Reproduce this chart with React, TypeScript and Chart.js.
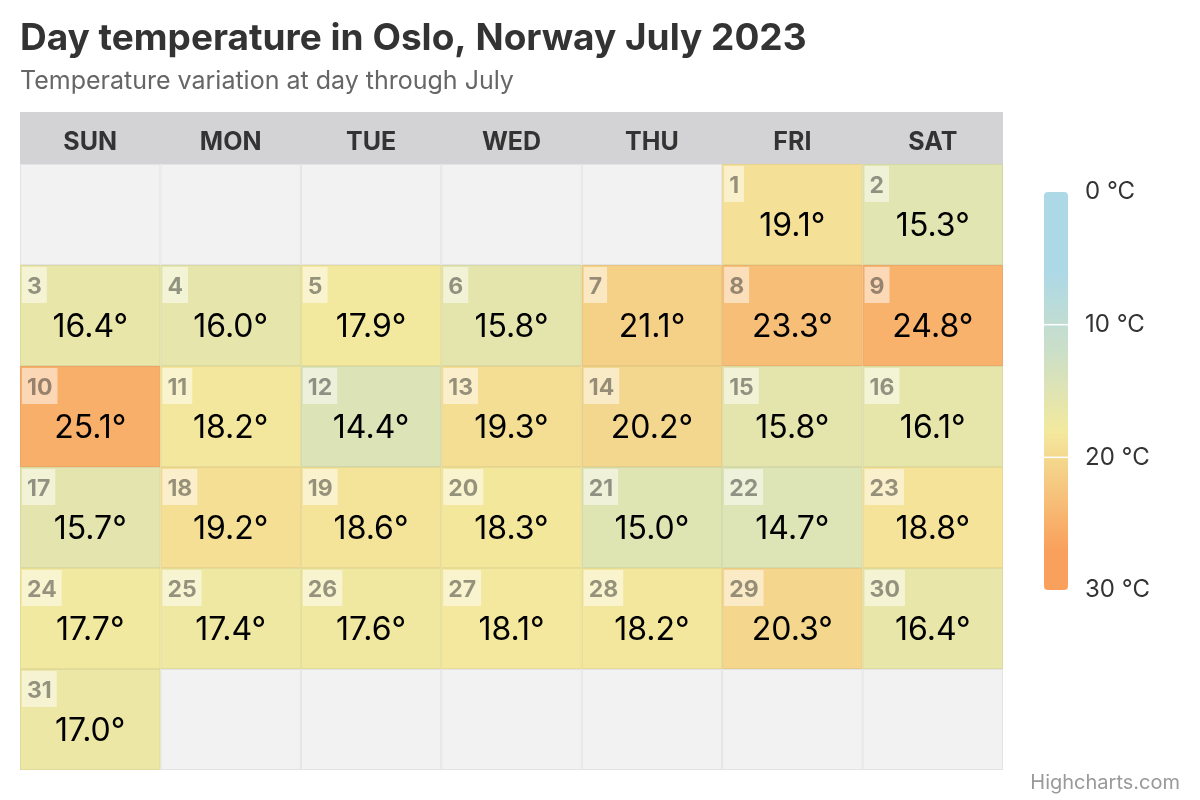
import React, { useEffect, useRef } from "react";
import { Chart, registerables } from "chart.js";

Chart.register(...registerables);

const TITLE = "Day temperature in Oslo, Norway July 2023";
const SUBTITLE = "Temperature variation at day through July";
const CREDITS = "Highcharts.com";
const WEEKDAYS = ["SUN", "MON", "TUE", "WED", "THU", "FRI", "SAT"];
const FIRST_WEEKDAY = 5;
const DAYS = [
  1, 2, 3, 4, 5, 6, 7, 8, 9, 10, 11, 12, 13, 14, 15, 16, 17, 18, 19, 20, 21,
  22, 23, 24, 25, 26, 27, 28, 29, 30, 31,
];
const TEMPS = [
  19.1, 15.3, 16.4, 16.0, 17.9, 15.8, 21.1, 23.3, 24.8, 25.1, 18.2, 14.4, 19.3,
  20.2, 15.8, 16.1, 15.7, 19.2, 18.6, 18.3, 15.0, 14.7, 18.8, 17.7, 17.4, 17.6,
  18.1, 18.2, 20.3, 16.4, 17.0,
];
const LEGEND_TICKS = [0, 10, 20, 30];
const COLOR_MIN = 0;
const COLOR_MAX = 30;
const COLOR_STOPS: [number, string][] = [
  [0.2, "#add8e6"],
  [0.4, "#cbdfc8"],
  [0.6, "#f3e99e"],
  [0.9, "#f9a05c"],
];

const FONT = '"Inter", "Noto Sans", sans-serif';

function hexToRgb(h: string) {
  const n = parseInt(h.slice(1), 16);
  return [(n >> 16) & 255, (n >> 8) & 255, n & 255];
}

function colorFor(v: number) {
  const p = (v - COLOR_MIN) / (COLOR_MAX - COLOR_MIN);
  if (p <= COLOR_STOPS[0][0]) return COLOR_STOPS[0][1];
  for (let i = 1; i < COLOR_STOPS.length; i++) {
    const [p1, c1] = COLOR_STOPS[i];
    if (p <= p1) {
      const [p0, c0] = COLOR_STOPS[i - 1];
      const t = (p - p0) / (p1 - p0);
      const a = hexToRgb(c0);
      const b = hexToRgb(c1);
      const m = a.map((x, k) => Math.round(x + (b[k] - x) * t));
      return `rgb(${m[0]},${m[1]},${m[2]})`;
    }
  }
  return COLOR_STOPS[COLOR_STOPS.length - 1][1];
}

const calendarPlugin = {
  id: "calendar",
  afterDatasetsDraw(chart: any) {
    const ctx: CanvasRenderingContext2D = chart.ctx;
    const xs = chart.scales.x;
    const ys = chart.scales.y;
    const pts = chart.data.datasets[0].data as any[];
    ctx.save();

    // Title & subtitle
    ctx.textBaseline = "alphabetic";
    ctx.textAlign = "left";
    ctx.fillStyle = "#333333";
    ctx.font = `bold 37px ${FONT}`;
    ctx.fillText(TITLE, 20, 50);
    ctx.fillStyle = "#666666";
    ctx.font = `25px ${FONT}`;
    ctx.fillText(SUBTITLE, 20, 89);

    // Header band
    const left = xs.getPixelForValue(-0.5);
    const right = xs.getPixelForValue(6.5);
    const top = ys.getPixelForValue(-0.5);
    ctx.fillStyle = "#d3d3d6";
    ctx.fillRect(left, top - 52, right - left, 52);
    ctx.fillStyle = "#333333";
    ctx.font = `bold 25px ${FONT}`;
    ctx.textAlign = "center";
    WEEKDAYS.forEach((w, i) => {
      ctx.fillText(w, xs.getPixelForValue(i), top - 14);
    });

    // Cells
    const rows = Math.ceil((FIRST_WEEKDAY + DAYS.length) / 7);
    const filled = new Set(pts.map((p) => p.y * 7 + p.x));
    const cellRect = (c: number, r: number) => {
      const x0 = xs.getPixelForValue(c - 0.5);
      const x1 = xs.getPixelForValue(c + 0.5);
      const y0 = ys.getPixelForValue(r - 0.5);
      const y1 = ys.getPixelForValue(r + 0.5);
      return { x0, y0, w: x1 - x0, h: y1 - y0 };
    };
    for (let r = 0; r < rows; r++) {
      for (let c = 0; c < 7; c++) {
        if (filled.has(r * 7 + c)) continue;
        const { x0, y0, w, h } = cellRect(c, r);
        ctx.fillStyle = "#f2f2f2";
        ctx.fillRect(x0, y0, w, h);
        ctx.strokeStyle = "rgba(0,0,0,0.06)";
        ctx.lineWidth = 1;
        ctx.strokeRect(x0 + 0.5, y0 + 0.5, w - 1, h - 1);
      }
    }
    pts.forEach((p) => {
      const { x0, y0, w, h } = cellRect(p.x, p.y);
      ctx.fillStyle = colorFor(p.v);
      ctx.fillRect(x0, y0, w, h);
      ctx.strokeStyle = "rgba(0,0,0,0.05)";
      ctx.lineWidth = 1;
      ctx.strokeRect(x0 + 0.5, y0 + 0.5, w - 1, h - 1);

      // day number
      ctx.font = `bold 23px ${FONT}`;
      ctx.textAlign = "left";
      const label = String(p.d);
      const tw = ctx.measureText(label).width;
      ctx.fillStyle = "rgba(255,255,255,0.5)";
      ctx.fillRect(x0 + 2, y0 + 2, tw + 10, 36);
      ctx.fillStyle = "rgba(0,0,0,0.4)";
      ctx.fillText(label, x0 + 7, y0 + 29);

      // value
      ctx.font = `32px ${FONT}`;
      ctx.textAlign = "center";
      ctx.fillStyle = "#000000";
      ctx.fillText(p.v.toFixed(1) + "°", x0 + w / 2, y0 + 72);
    });

    // Color legend
    const lx = 1044;
    const lw = 24;
    const ly0 = 192;
    const ly1 = 590;
    const grad = ctx.createLinearGradient(0, ly0, 0, ly1);
    grad.addColorStop(0, COLOR_STOPS[0][1]);
    COLOR_STOPS.forEach(([s, c]) => grad.addColorStop(s, c));
    grad.addColorStop(1, COLOR_STOPS[COLOR_STOPS.length - 1][1]);
    ctx.fillStyle = grad;
    ctx.beginPath();
    (ctx as any).roundRect(lx, ly0, lw, ly1 - ly0, 4);
    ctx.fill();
    const vy = (v: number) =>
      ly0 + ((v - COLOR_MIN) / (COLOR_MAX - COLOR_MIN)) * (ly1 - ly0);
    ctx.strokeStyle = "#ffffff";
    ctx.lineWidth = 1.5;
    LEGEND_TICKS.forEach((t) => {
      if (t === COLOR_MIN || t === COLOR_MAX) return;
      ctx.beginPath();
      ctx.moveTo(lx, vy(t));
      ctx.lineTo(lx + lw, vy(t));
      ctx.stroke();
    });
    ctx.fillStyle = "#333333";
    ctx.font = `24px ${FONT}`;
    ctx.textAlign = "left";
    ctx.textBaseline = "middle";
    LEGEND_TICKS.forEach((t) => {
      ctx.fillText(`${t} °C`, 1085, vy(t));
    });

    // Credits
    ctx.textBaseline = "alphabetic";
    ctx.textAlign = "right";
    ctx.fillStyle = "#999999";
    ctx.font = `20px ${FONT}`;
    ctx.fillText(CREDITS, 1180, 789);

    ctx.restore();
  },
};

export default function App() {
  const ref = useRef<HTMLCanvasElement>(null);
  useEffect(() => {
    const points = TEMPS.map((t, i) => ({
      x: (FIRST_WEEKDAY + i) % 7,
      y: Math.floor((FIRST_WEEKDAY + i) / 7),
      v: t,
      d: DAYS[i],
    }));
    const chart = new Chart(ref.current as HTMLCanvasElement, {
      type: "scatter",
      data: {
        datasets: [
          { data: points as any, pointRadius: 0, pointHoverRadius: 0 },
        ],
      },
      options: {
        responsive: false,
        animation: false,
        events: [],
        layout: { padding: { left: 20, top: 164, right: 197, bottom: 30 } },
        scales: {
          x: { type: "linear", min: -0.5, max: 6.5, display: false },
          y: {
            type: "linear",
            min: -0.5,
            max: 5.5,
            reverse: true,
            display: false,
          },
        },
        plugins: {
          legend: { display: false },
          tooltip: { enabled: false },
          title: { display: false },
        },
      },
      plugins: [calendarPlugin],
    });
    return () => chart.destroy();
  }, []);
  return (
    <div
      style={{
        position: "fixed",
        left: 0,
        top: 0,
        width: 1200,
        height: 800,
        background: "#ffffff",
      }}
    >
      <canvas
        ref={ref}
        width={1200}
        height={800}
        style={{ display: "block", width: 1200, height: 800 }}
      />
    </div>
  );
}
